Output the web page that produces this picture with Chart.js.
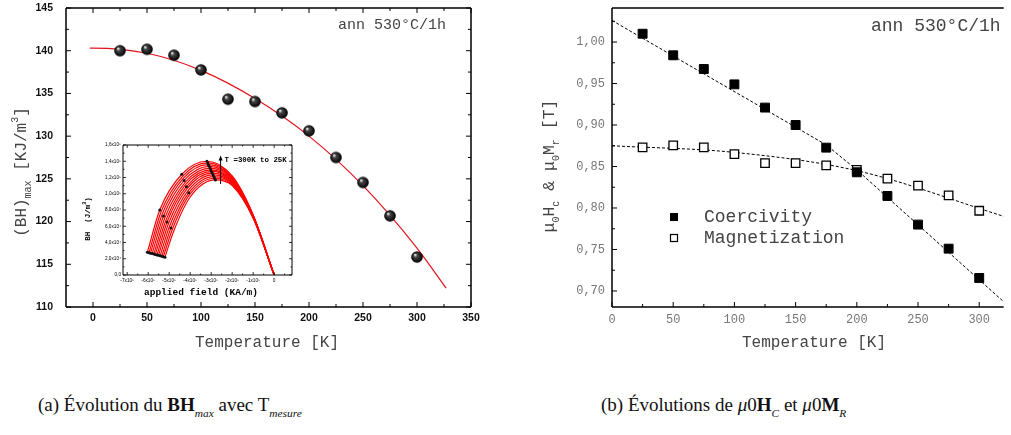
<!DOCTYPE html>
<html>
<head>
<meta charset="utf-8">
<script src="https://cdn.jsdelivr.net/npm/chart.js@4"></script>
<style>
  html, body { margin: 0; padding: 0; background: #fff; }
  #wrap { position: relative; width: 1011px; height: 435px; overflow: hidden; }
  canvas { position: absolute; }
  #left { left: 0; top: 0; }
  #inset { left: 70px; top: 135px; }
  #right { left: 500px; top: 0; }
  .cap { position: absolute; top: 394px; font-family: "Liberation Serif", "DejaVu Serif", serif;
         font-size: 19px; color: #111; white-space: nowrap; }
  .cap sub { font-size: 0.6em; vertical-align: -0.5em; }
</style>
</head>
<body>
<div id="wrap">
  <canvas id="left" width="500" height="360"></canvas>
  <canvas id="inset" width="230" height="165"></canvas>
  <canvas id="right" width="511" height="360"></canvas>
  <div class="cap" style="left:38px">(a) Évolution du <b>BH</b><sub><i>max</i></sub> avec T<sub><i>mesure</i></sub></div>
  <div class="cap" style="left:601px">(b) Évolutions de <i>μ</i>0<b>H</b><sub><i>C</i></sub> et <i>μ</i>0<b>M</b><sub><i>R</i></sub></div>
</div>
<script>
// ---- data (a): (BH)max vs temperature ----
const temps = [25, 50, 75, 100, 125, 150, 175, 200, 225, 250, 275, 300];
const bhMax = [140.0, 140.17, 139.47, 137.75, 134.32, 134.05, 132.73, 130.62, 127.5, 124.58, 120.67, 115.85];
const bhFitT = [-3, 0, 50, 100, 150, 200, 250, 300, 327];
const bhFit = [140.3, 140.3, 139.7, 137.7, 134.4, 130.0, 124.2, 116.9, 112.2];
const leftXTicks = [0, 50, 100, 150, 200, 250, 300, 350];
const leftYTicks = [110, 115, 120, 125, 130, 135, 140, 145];

// ---- data (a) inset: BH (x10^5 J/m3) vs applied field, one curve per temperature (300K .. 25K) ----
const insetH = [
  [-6.04, -5.45, -4.40, -3.20, -2, -1, 0],
  [-5.96, -5.39, -4.36, -3.16, -2, -1, 0],
  [-5.89, -5.33, -4.33, -3.13, -2, -1, 0],
  [-5.81, -5.27, -4.29, -3.09, -2, -1, 0],
  [-5.73, -5.21, -4.25, -3.05, -2, -1, 0],
  [-5.66, -5.15, -4.22, -3.02, -2, -1, 0],
  [-5.58, -5.10, -4.18, -2.98, -2, -1, 0],
  [-5.51, -5.04, -4.15, -2.95, -2, -1, 0],
  [-5.43, -4.98, -4.11, -2.91, -2, -1, 0],
  [-5.35, -4.92, -4.07, -2.87, -2, -1, 0],
  [-5.28, -4.86, -4.04, -2.84, -2, -1, 0],
  [-5.20, -4.80, -4.00, -2.80, -2, -1, 0]
];
const insetBH = [
  [0.280, 0.800, 1.240, 1.400, 1.220, 0.740, 0],
  [0.275, 0.775, 1.215, 1.379, 1.209, 0.736, 0],
  [0.269, 0.751, 1.189, 1.358, 1.198, 0.733, 0],
  [0.264, 0.726, 1.164, 1.337, 1.187, 0.729, 0],
  [0.258, 0.702, 1.138, 1.316, 1.176, 0.725, 0],
  [0.253, 0.677, 1.113, 1.295, 1.165, 0.722, 0],
  [0.247, 0.653, 1.087, 1.275, 1.155, 0.718, 0],
  [0.242, 0.628, 1.062, 1.254, 1.144, 0.715, 0],
  [0.236, 0.604, 1.036, 1.233, 1.133, 0.711, 0],
  [0.231, 0.579, 1.011, 1.212, 1.122, 0.707, 0],
  [0.225, 0.555, 0.985, 1.191, 1.111, 0.704, 0],
  [0.220, 0.530, 0.960, 1.170, 1.100, 0.700, 0]
];
const insetXTicks = [-7, -6, -5, -4, -3, -2, -1, 0];
const insetXLabels = ['-7x10⁵', '-6x10⁵', '-5x10⁵', '-4x10⁵', '-3x10⁵', '-2x10⁵', '-1x10⁵', '0'];
const insetYTicks = [0, 0.2, 0.4, 0.6, 0.8, 1.0, 1.2, 1.4, 1.6];
const insetYLabels = ['0,0', '2,0x10⁴', '4,0x10⁴', '6,0x10⁴', '8,0x10⁴', '1,0x10⁵', '1,2x10⁵', '1,4x10⁵', '1,6x10⁵'];

// ---- data (b): coercivity and remanent magnetization ----
const seriesNames = ['Coercivity', 'Magnetization'];
const coercivity = [1.010, 0.984, 0.9675, 0.949, 0.921, 0.900, 0.8727, 0.843, 0.8145, 0.780, 0.751, 0.7157];
const magnetization = [0.873, 0.8755, 0.873, 0.865, 0.854, 0.854, 0.8514, 0.846, 0.8353, 0.827, 0.8153, 0.7967];
const coerFitT = [0, 175, 200, 320];
const coerFit = [1.026, 0.876, 0.846, 0.687];
const magFitT = [0, 100, 200, 320];
const magFit = [0.875, 0.867, 0.845, 0.790];
const rightXTicks = [0, 50, 100, 150, 200, 250, 300];
const rightYTicks = [0.70, 0.75, 0.80, 0.85, 0.90, 0.95, 1.00];

const MONO = '"Liberation Mono", "DejaVu Sans Mono", monospace';
const SANS = '"Liberation Sans", Arial, sans-serif';

function pts(xs, ys) {
  return xs.map((x, i) => ({ x: x, y: ys[i] }));
}

// shaded black ball used as marker in panel (a)
function makeBall(r) {
  const c = document.createElement('canvas');
  const s = Math.ceil(2 * r + 2);
  c.width = c.height = s;
  const g = c.getContext('2d');
  const grad = g.createRadialGradient(s / 2 - r * 0.35, s / 2 - r * 0.4, r * 0.05, s / 2, s / 2, r);
  grad.addColorStop(0, '#f4f4f4');
  grad.addColorStop(0.3, '#444');
  grad.addColorStop(1, '#000');
  g.fillStyle = grad;
  g.beginPath();
  g.arc(s / 2, s / 2, r, 0, Math.PI * 2);
  g.fill();
  return c;
}

// text made of pieces with sub/superscripts, centred on (x, y)
function richText(ctx, parts, x, y, angle, color) {
  ctx.save();
  ctx.translate(x, y);
  ctx.rotate(angle || 0);
  let w = 0;
  parts.forEach(p => { ctx.font = p.font; p.w = ctx.measureText(p.t).width; w += p.w; });
  let cx = -w / 2;
  ctx.textBaseline = 'middle';
  ctx.textAlign = 'left';
  ctx.fillStyle = color;
  parts.forEach(p => { ctx.font = p.font; ctx.fillText(p.t, cx, p.dy || 0); cx += p.w; });
  ctx.restore();
}

// axis box with inward major/minor ticks and the tick labels
const framePlugin = {
  id: 'frame',
  afterDatasetsDraw(chart, args, o) {
    const { ctx, chartArea: a } = chart;
    const xs = chart.scales.x, ys = chart.scales.y;
    const right = o.right || a.right;
    ctx.save();
    ctx.strokeStyle = '#000';
    ctx.lineWidth = o.lw;
    ctx.beginPath();
    if (o.sides.includes('left')) { ctx.moveTo(a.left, a.top); ctx.lineTo(a.left, a.bottom); }
    if (o.sides.includes('bottom')) { ctx.moveTo(a.left, a.bottom); ctx.lineTo(right, a.bottom); }
    if (o.sides.includes('top')) { ctx.moveTo(a.left, a.top); ctx.lineTo(right, a.top); }
    if (o.sides.includes('right')) { ctx.moveTo(right, a.top); ctx.lineTo(right, a.bottom); }
    ctx.stroke();

    const minorOf = (vals, s) => {
      if (!o.minor) return [];
      const step = vals[1] - vals[0];
      const out = [vals[0] - step / 2].concat(vals.map(v => v + step / 2));
      return out.filter(v => v > Math.min(s.min, s.max) && v < Math.max(s.min, s.max));
    };
    const xv = xs.ticks.map(t => t.value), yv = ys.ticks.map(t => t.value);
    ctx.lineWidth = o.tickLw;
    ctx.beginPath();
    const xTick = (v, len) => {
      const px = xs.getPixelForValue(v);
      if (o.ticks.includes('bottom')) { ctx.moveTo(px, a.bottom); ctx.lineTo(px, a.bottom - len); }
      if (o.ticks.includes('top')) { ctx.moveTo(px, a.top); ctx.lineTo(px, a.top + len); }
    };
    const yTick = (v, len) => {
      const py = ys.getPixelForValue(v);
      if (o.ticks.includes('left')) { ctx.moveTo(a.left, py); ctx.lineTo(a.left + len, py); }
      if (o.ticks.includes('right')) { ctx.moveTo(right, py); ctx.lineTo(right - len, py); }
    };
    xv.forEach(v => xTick(v, o.major));
    yv.forEach(v => yTick(v, o.major));
    minorOf(xv, xs).forEach(v => xTick(v, o.minor));
    minorOf(yv, ys).forEach(v => yTick(v, o.minor));
    ctx.stroke();

    // tick labels
    const L = o.labels;
    ctx.font = L.font;
    ctx.fillStyle = L.color;
    ctx.textBaseline = 'middle';
    ctx.textAlign = 'center';
    xs.ticks.forEach((t, i) => {
      ctx.fillText(L.xfmt ? L.xfmt(t.value, i) : String(t.value), xs.getPixelForValue(t.value), a.bottom + L.xgap);
    });
    ctx.textAlign = 'right';
    ys.ticks.forEach((t, i) => {
      ctx.fillText(L.yfmt ? L.yfmt(t.value, i) : String(t.value), a.left - L.ygap, ys.getPixelForValue(t.value));
    });
    ctx.restore();
  }
};

// free texts (titles, annotations, legend) drawn by each chart
const textPlugin = {
  id: 'texts',
  afterDraw(chart, args, o) {
    if (o.draw) o.draw(chart.ctx, chart);
  }
};

function axis(min, max, vals, fit) {
  return {
    type: 'linear',
    min: min,
    max: max,
    afterBuildTicks: s => { s.ticks = vals.map(v => ({ value: v })); },
    afterFit: fit,
    grid: { display: false, drawTicks: false },
    border: { display: false },
    ticks: { display: false }
  };
}

// ---------------- panel (a) ----------------
const ball = makeBall(5.8);
new Chart(document.getElementById('left'), {
  type: 'scatter',
  data: {
    datasets: [
      { data: pts(temps, bhMax), pointStyle: ball, pointRadius: 6, showLine: false },
      { data: pts(bhFitT, bhFit), showLine: true, borderColor: '#e3121b', borderWidth: 1.2,
        pointRadius: 0, cubicInterpolationMode: 'monotone' }
    ]
  },
  options: {
    responsive: false,
    animation: false,
    layout: { padding: { left: 0, right: 29, top: 8, bottom: 0 } },
    plugins: {
      legend: { display: false },
      tooltip: { enabled: false },
      frame: { lw: 1.5, tickLw: 1, major: 5, minor: 3,
               sides: ['left', 'bottom', 'top', 'right'], ticks: ['left', 'bottom', 'top', 'right'],
               labels: { font: 'bold 10.5px ' + SANS, color: '#111', xgap: 11, ygap: 13 } },
      texts: {
        draw(ctx) {
          ctx.save();
          ctx.fillStyle = '#444';
          ctx.font = '15px ' + MONO;
          ctx.textBaseline = 'middle';
          ctx.fillText('ann 530°C/1h', 338, 25);
          ctx.font = '16px ' + MONO;
          ctx.textAlign = 'center';
          ctx.fillText('Temperature [K]', 267, 343);
          ctx.restore();
          richText(ctx, [
            { t: '(BH)', font: '16px ' + MONO },
            { t: 'max', font: '10px ' + MONO, dy: 6 },
            { t: ' [KJ/m', font: '16px ' + MONO },
            { t: '3', font: '10px ' + MONO, dy: -7 },
            { t: ']', font: '16px ' + MONO }
          ], 22, 172, -Math.PI / 2, '#444');
        }
      }
    },
    scales: {
      x: axis(-25, 350, leftXTicks, s => { s.height = 53; }),
      y: axis(110, 145, leftYTicks, s => { s.width = 66; })
    }
  },
  plugins: [framePlugin, textPlugin]
});

// ---------------- inset of panel (a) ----------------
const insetSets = insetH.map((hs, i) => ({
  data: pts(hs, insetBH[i]),
  showLine: true,
  borderColor: '#ff0000',
  borderWidth: 1.2,
  cubicInterpolationMode: 'monotone',
  pointStyle: 'circle',
  pointRadius: c => {
    const k = c.dataIndex;
    if (k === 0 || k === 3) return 1.5;
    if ((k === 1 || k === 2) && i % 3 === 0) return 1.5;
    return 0;
  },
  pointBackgroundColor: '#111',
  pointBorderColor: '#111',
  pointBorderWidth: 0
}));
new Chart(document.getElementById('inset'), {
  type: 'scatter',
  data: { datasets: insetSets },
  options: {
    responsive: false,
    animation: false,
    layout: { padding: { left: 0, right: 8, top: 10, bottom: 0 } },
    plugins: {
      legend: { display: false },
      tooltip: { enabled: false },
      frame: { lw: 1, tickLw: 0.8, major: 3, minor: 1.5,
               sides: ['left', 'bottom', 'top', 'right'], ticks: ['left', 'bottom', 'top', 'right'],
               labels: { font: '4.7px ' + SANS, color: '#000', xgap: 6, ygap: 2,
                         xfmt: (v, i) => insetXLabels[i], yfmt: (v, i) => insetYLabels[i] } },
      texts: {
        draw(ctx, chart) {
          const xs = chart.scales.x, ys = chart.scales.y;
          const ax = xs.getPixelForValue(-2.55);
          const y0 = ys.getPixelForValue(1.12), y1 = ys.getPixelForValue(1.47);
          ctx.save();
          ctx.strokeStyle = '#000';
          ctx.fillStyle = '#000';
          ctx.lineWidth = 1;
          ctx.beginPath();
          ctx.moveTo(ax, y0); ctx.lineTo(ax, y1 + 3);
          ctx.stroke();
          ctx.beginPath();
          ctx.moveTo(ax, y1); ctx.lineTo(ax - 2, y1 + 5); ctx.lineTo(ax + 2, y1 + 5);
          ctx.closePath(); ctx.fill();
          ctx.font = 'bold 7.4px ' + MONO;
          ctx.textBaseline = 'middle';
          ctx.fillText('T =300K to 25K', ax + 4, ys.getPixelForValue(1.41));
          ctx.font = 'bold 9.5px ' + MONO;
          ctx.textAlign = 'center';
          ctx.fillText('applied field (KA/m)', 131, 158);
          ctx.restore();
          richText(ctx, [
            { t: 'BH  (J/m', font: 'bold 7.5px ' + MONO },
            { t: '3', font: 'bold 5px ' + MONO, dy: -3 },
            { t: ')', font: 'bold 7.5px ' + MONO }
          ], 18, 84, -Math.PI / 2, '#000');
        }
      }
    },
    scales: {
      x: axis(-7.2, 0.85, insetXTicks, s => { s.height = 25; }),
      y: axis(0, 1.6, insetYTicks, s => { s.width = 53; })
    }
  },
  plugins: [framePlugin, textPlugin]
});

// ---------------- panel (b) ----------------
new Chart(document.getElementById('right'), {
  type: 'scatter',
  data: {
    datasets: [
      { label: seriesNames[0], data: pts(temps, coercivity), pointStyle: 'rect', pointRadius: 6.3,
        pointBackgroundColor: '#000', pointBorderColor: '#000', pointBorderWidth: 1, showLine: false },
      { label: seriesNames[1], data: pts(temps, magnetization), pointStyle: 'rect', pointRadius: 6,
        pointBackgroundColor: '#fff', pointBorderColor: '#000', pointBorderWidth: 1.3, showLine: false },
      { data: pts(coerFitT, coerFit), showLine: true, borderColor: '#000', borderWidth: 1,
        borderDash: [3, 2], pointRadius: 0 },
      { data: pts(magFitT, magFit), showLine: true, borderColor: '#000', borderWidth: 1,
        borderDash: [3, 2], pointRadius: 0, cubicInterpolationMode: 'monotone' }
    ]
  },
  options: {
    responsive: false,
    animation: false,
    layout: { padding: { left: 0, right: 0, top: 8, bottom: 0 } },
    plugins: {
      legend: { display: false },
      tooltip: { enabled: false },
      frame: { lw: 1.5, tickLw: 1, major: 5, minor: 3,
               sides: ['left', 'bottom', 'top'], ticks: ['left', 'bottom'],
               labels: { font: '12px ' + MONO, color: '#777', xgap: 13, ygap: 7,
                         yfmt: v => v.toFixed(2).replace('.', ',') } },
      texts: {
        draw(ctx, chart) {
          ctx.save();
          ctx.fillStyle = '#444';
          ctx.font = '18px ' + MONO;
          ctx.textBaseline = 'middle';
          ctx.fillText('ann 530°C/1h', 371, 26);
          // legend
          ctx.fillStyle = '#000';
          ctx.fillRect(170, 213, 8, 8);
          ctx.strokeStyle = '#000';
          ctx.lineWidth = 1.2;
          ctx.strokeRect(170.5, 234.5, 7, 7);
          ctx.fillStyle = '#444';
          ctx.fillText(chart.data.datasets[0].label, 204, 217);
          ctx.fillText(chart.data.datasets[1].label, 204, 238);
          ctx.font = '16px ' + MONO;
          ctx.textAlign = 'center';
          ctx.fillText('Temperature [K]', 314, 343);
          ctx.restore();
          const big = '16.5px ' + MONO, sm = '10px ' + MONO;
          richText(ctx, [
            { t: 'μ', font: big }, { t: '0', font: sm, dy: 6 },
            { t: 'H', font: big }, { t: 'c', font: sm, dy: 6 },
            { t: ' & ', font: big },
            { t: 'μ', font: big }, { t: '0', font: sm, dy: 6 },
            { t: 'M', font: big }, { t: 'r', font: sm, dy: 6 },
            { t: ' [T]', font: big }
          ], 50, 166, -Math.PI / 2, '#444');
        }
      }
    },
    scales: {
      x: axis(0, 320, rightXTicks, s => { s.height = 53; }),
      y: axis(0.6807, 1.041, rightYTicks, s => { s.width = 112; })
    }
  },
  plugins: [framePlugin, textPlugin]
});
</script>
</body>
</html>
